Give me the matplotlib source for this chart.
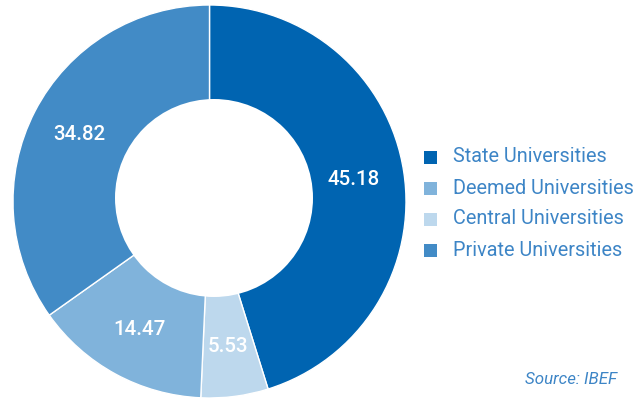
import numpy as np
import matplotlib.pyplot as plt
from matplotlib.patches import Circle, Rectangle

# Share of universities by type (%), drawn clockwise from the top
ring_names = ["State Universities", "Central Universities",
              "Deemed Universities", "Private Universities"]
ring_values = [45.18, 5.53, 14.47, 34.82]
ring_colors = ["#0064b1", "#bdd8ed", "#80b3db", "#428bc6"]

# Legend order differs from the ring order
legend_names = ["State Universities", "Deemed Universities",
                "Central Universities", "Private Universities"]

W, H = 644, 398
fig = plt.figure(figsize=(W / 100, H / 100), dpi=100)
ax = fig.add_axes([0, 0, 1, 1])

cx, cy, r_out = 209.5, H - 201.5, 196.5
wedges, _ = ax.pie(ring_values, colors=ring_colors, startangle=90,
                   counterclock=False, center=(cx, cy), radius=r_out,
                   wedgeprops=dict(edgecolor="white", linewidth=1))

# hole of the doughnut
ax.add_patch(Circle((214, H - 198), 99, facecolor="white",
                    edgecolor="none", zorder=5))

# value labels at the middle of each wedge
r_lab = 146
for w, v in zip(wedges, ring_values):
    mid = np.deg2rad((w.theta1 + w.theta2) / 2)
    ax.text(cx + r_lab * np.cos(mid), cy + r_lab * np.sin(mid), f"{v:.2f}",
            ha="center", va="center", color="white", fontsize=14.8,
            fontfamily="Roboto", fontweight="medium", zorder=6)

# legend
color_of = dict(zip(ring_names, ring_colors))
for i, name in enumerate(legend_names):
    y = H - (157 + 31 * i)
    ax.add_patch(Rectangle((424, y - 6.5), 13, 13,
                           facecolor=color_of[name], edgecolor="none"))
    ax.text(453, y, name, ha="left", va="center", color="#3d85c6",
            fontsize=14.3, fontfamily="Roboto")

ax.text(617, H - 380, "Source: IBEF", ha="right", va="center",
        color="#3d85c6", fontsize=12.2, fontstyle="italic",
        fontfamily="Roboto")

ax.set_xlim(0, W)
ax.set_ylim(0, H)
ax.set_aspect("auto")
ax.axis("off")

fig.savefig("out.png", dpi=100)
